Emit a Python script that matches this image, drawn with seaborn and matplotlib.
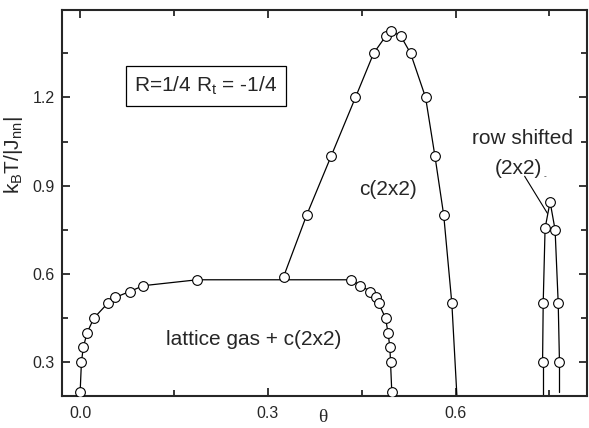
import numpy as np
import pandas as pd
import matplotlib
matplotlib.use("Agg")
import matplotlib.pyplot as plt
import seaborn as sns
from matplotlib.ticker import MultipleLocator, FormatStrFormatter

# lattice gas + c(2x2) coexistence boundary
lg_theta = [0.0, 0.002, 0.005, 0.011, 0.022, 0.044, 0.056, 0.079, 0.101, 0.187,
            0.433, 0.448, 0.464, 0.472, 0.477, 0.488, 0.492, 0.495, 0.496, 0.498]
lg_T = [0.20, 0.30, 0.35, 0.40, 0.45, 0.50, 0.52, 0.54, 0.56, 0.58,
        0.58, 0.56, 0.54, 0.52, 0.50, 0.45, 0.40, 0.35, 0.30, 0.20]

# c(2x2) order-disorder line
c2_theta = [0.325, 0.362, 0.401, 0.440, 0.469, 0.489, 0.496, 0.512, 0.528,
            0.552, 0.567, 0.581, 0.594]
c2_T = [0.59, 0.80, 1.00, 1.20, 1.35, 1.41, 1.425, 1.41, 1.35,
        1.20, 1.00, 0.80, 0.50]
c2_tail_theta = [0.594, 0.603]
c2_tail_T = [0.50, 0.15]

# row shifted (2x2) dome
rs_theta = [0.739, 0.740, 0.743, 0.751, 0.759, 0.764, 0.766]
rs_T = [0.30, 0.50, 0.755, 0.845, 0.75, 0.50, 0.30]
rs_left_tail_theta = [0.739, 0.739]
rs_left_tail_T = [0.30, 0.15]
rs_right_tail_theta = [0.766, 0.766]
rs_right_tail_T = [0.30, 0.20]

sns.set_style("ticks")
plt.rcParams['font.family'] = ['Liberation Sans', 'DejaVu Sans']
plt.rcParams['mathtext.fontset'] = 'custom'
plt.rcParams['mathtext.rm'] = 'Liberation Sans'

fig, ax = plt.subplots(figsize=(5.89, 4.28), dpi=100)
fig.subplots_adjust(left=0.1053, right=0.9966, bottom=0.0748, top=0.9766)

mk = dict(marker='o', ms=7, mfc='white', mec='black', mew=0.8)

sns.lineplot(x=lg_theta, y=lg_T, sort=False, estimator=None, color='black',
             lw=0.9, ax=ax, zorder=3, **mk)
sns.lineplot(x=c2_theta, y=c2_T, sort=False, estimator=None, color='black',
             lw=0.9, ax=ax, zorder=3, **mk)
sns.lineplot(x=rs_theta, y=rs_T, sort=False, estimator=None, color='black',
             lw=0.9, ax=ax, zorder=3, **mk)
for tx, ty in [(c2_tail_theta, c2_tail_T), (rs_left_tail_theta, rs_left_tail_T),
               (rs_right_tail_theta, rs_right_tail_T)]:
    sns.lineplot(x=tx, y=ty, sort=False, estimator=None, color='black',
                 lw=0.9, ax=ax, zorder=2)

ax.set_xlim(-0.029, 0.81)
ax.set_ylim(0.185, 1.497)

ax.xaxis.set_major_locator(MultipleLocator(0.3))
ax.xaxis.set_minor_locator(MultipleLocator(0.15))
ax.yaxis.set_major_locator(MultipleLocator(0.3))
ax.yaxis.set_minor_locator(MultipleLocator(0.15))
ax.xaxis.set_major_formatter(FormatStrFormatter('%.1f'))
ax.yaxis.set_major_formatter(FormatStrFormatter('%.1f'))
ax.tick_params(which='both', direction='in', top=True, right=True, width=1.3)
ax.tick_params(which='major', length=6, labelsize=11.5)
ax.tick_params(axis='x', which='major', pad=7)
ax.tick_params(axis='y', which='major', pad=5)
ax.tick_params(which='minor', length=4)
for s in ax.spines.values():
    s.set_linewidth(1.5)
    s.set_visible(True)

ax.set_xlabel('θ', fontsize=14, family=['Liberation Serif', 'DejaVu Serif'])
ax.xaxis.set_label_coords(0.497, -0.033)
ax.set_ylabel(r'k$_\mathrm{B}$T/|J$_\mathrm{nn}$|', fontsize=15)
ax.yaxis.set_label_coords(-0.07, 0.624)

ax.text(0.274, 0.803, r'R=1/4 R$_\mathrm{t}$ = -1/4', transform=ax.transAxes,
        fontsize=15, ha='center', va='center',
        bbox=dict(boxstyle='square,pad=0.4', fc='white', ec='black', lw=0.9))
ax.text(0.492, 0.886, 'c(2x2)', fontsize=15, ha='center', va='center')
ax.text(0.277, 0.378, 'lattice gas + c(2x2)', fontsize=15, ha='center', va='center')
ax.text(0.707, 1.059, 'row shifted', fontsize=15, ha='center', va='center')
ax.text(0.700, 0.958, '(2x2)', fontsize=15, ha='center', va='center')
ax.text(0.743, 0.93, '-', fontsize=6, ha='center', va='center')
ax.annotate('', xy=(0.749, 0.798), xytext=(0.708, 0.94),
            arrowprops=dict(arrowstyle='-', color='black', lw=0.8))

fig.savefig('out.png', dpi=100)
